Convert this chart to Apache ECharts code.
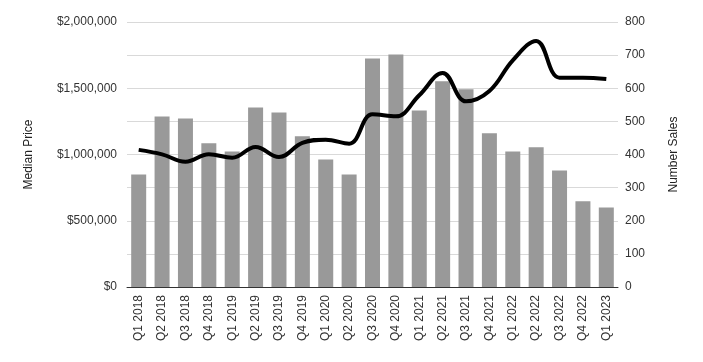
<!DOCTYPE html>
<html><head><meta charset="utf-8">
<script src="https://cdn.jsdelivr.net/npm/echarts@6/dist/echarts.min.js"></script>
<style>html,body{margin:0;padding:0;background:#fff}#c{width:703px;height:362px}</style>
</head><body><div id="c"></div>
<script>
var categories = ['Q1 2018','Q2 2018','Q3 2018','Q4 2018','Q1 2019','Q2 2019','Q3 2019','Q4 2019','Q1 2020','Q2 2020','Q3 2020','Q4 2020','Q1 2021','Q2 2021','Q3 2021','Q4 2021','Q1 2022','Q2 2022','Q3 2022','Q4 2022','Q1 2023'];
var numberSales = [340,515,509,434,409,542,527,455,385,340,690,702,533,621,597,464,409,422,352,259,240];
var medianPrice = [1035000,1001000,945000,1001000,976000,1057000,981000,1087000,1112000,1082000,1303000,1288000,1447000,1615000,1401000,1479000,1711000,1857000,1580000,1580000,1570000];

var chart = echarts.init(document.getElementById('c'), null, {renderer:'canvas'});
var font = 'Liberation Sans, Arial, sans-serif';
chart.setOption({
  animation:false,
  textStyle:{fontFamily:font},
  grid:{left:127,right:85,top:22,bottom:75},
  xAxis:{type:'category',data:categories,
    axisLine:{lineStyle:{color:'#333',width:1}},
    axisTick:{show:false},
    axisLabel:{rotate:90,color:'#333',fontSize:12,fontFamily:font,margin:8,interval:0}
  },
  yAxis:[
    {type:'value',min:0,max:2000000,interval:500000,name:'Median Price',nameLocation:'middle',nameGap:92,
     nameTextStyle:{color:'#222',fontSize:12,fontFamily:font},
     axisLabel:{color:'#333',fontSize:12,fontFamily:font,margin:10,formatter:function(v){return '$'+v.toLocaleString('en-US');}},
     splitLine:{show:false},axisLine:{show:false},axisTick:{show:false}},
    {type:'value',min:0,max:800,interval:100,name:'Number Sales',nameLocation:'middle',nameGap:50,
     nameTextStyle:{color:'#222',fontSize:12,fontFamily:font},
     axisLabel:{color:'#333',fontSize:12,fontFamily:font,margin:7},
     splitLine:{show:true,lineStyle:{color:'#d9d9d9',width:1}},axisLine:{show:false},axisTick:{show:false}}
  ],
  series:[
    {type:'bar',yAxisIndex:1,data:numberSales,barWidth:15,itemStyle:{color:'#999999'}},
    {type:'line',yAxisIndex:0,data:medianPrice,smooth:0.4,symbol:'none',lineStyle:{color:'#000',width:4},z:5}
  ]
});
</script></body></html>
